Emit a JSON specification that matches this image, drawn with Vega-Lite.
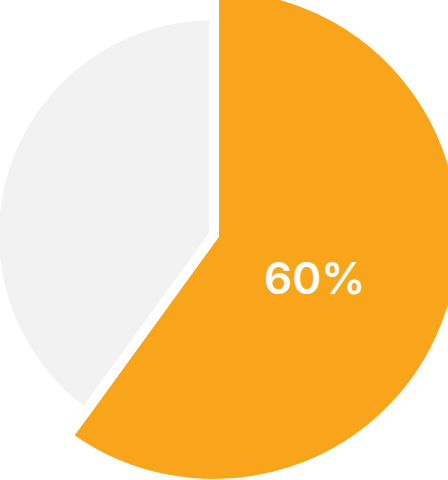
{
  "$schema": "https://vega.github.io/schema/vega-lite/v6.json",
  "autosize": "none",
  "width": 428,
  "height": 470,
  "padding": {"left": 0, "top": 0, "right": 20, "bottom": 10},
  "background": "white",
  "config": {"view": {"stroke": null}},
  "data": {
    "values": [
      {"category": "Highlighted", "value": 60, "idx": 0, "label": "60%"},
      {"category": "Rest", "value": 40, "idx": 1, "label": ""}
    ]
  },
  "encoding": {
    "theta": {"field": "value", "type": "quantitative", "stack": true},
    "order": {"field": "idx", "type": "quantitative"},
    "color": {
      "field": "category",
      "type": "nominal",
      "scale": {"domain": ["Highlighted", "Rest"], "range": ["#F9A51B", "#F2F2F2"]},
      "legend": null
    }
  },
  "layer": [
    {
      "mark": {"type": "arc", "outerRadius": 249, "stroke": "white", "strokeWidth": 10},
      "encoding": {
        "opacity": {"condition": {"test": "datum.idx == 0", "value": 1}, "value": 0}
      }
    },
    {
      "mark": {"type": "arc", "outerRadius": 220, "stroke": "white", "strokeWidth": 10},
      "encoding": {
        "opacity": {"condition": {"test": "datum.idx == 1", "value": 1}, "value": 0}
      }
    },
    {
      "mark": {
        "type": "text",
        "radius": 106,
        "dy": 13,
        "font": "Inter",
        "fontWeight": 600,
        "fontSize": 44,
        "align": "center",
        "baseline": "middle"
      },
      "encoding": {
        "text": {"field": "label", "type": "nominal"},
        "color": {"value": "white"}
      }
    }
  ]
}
